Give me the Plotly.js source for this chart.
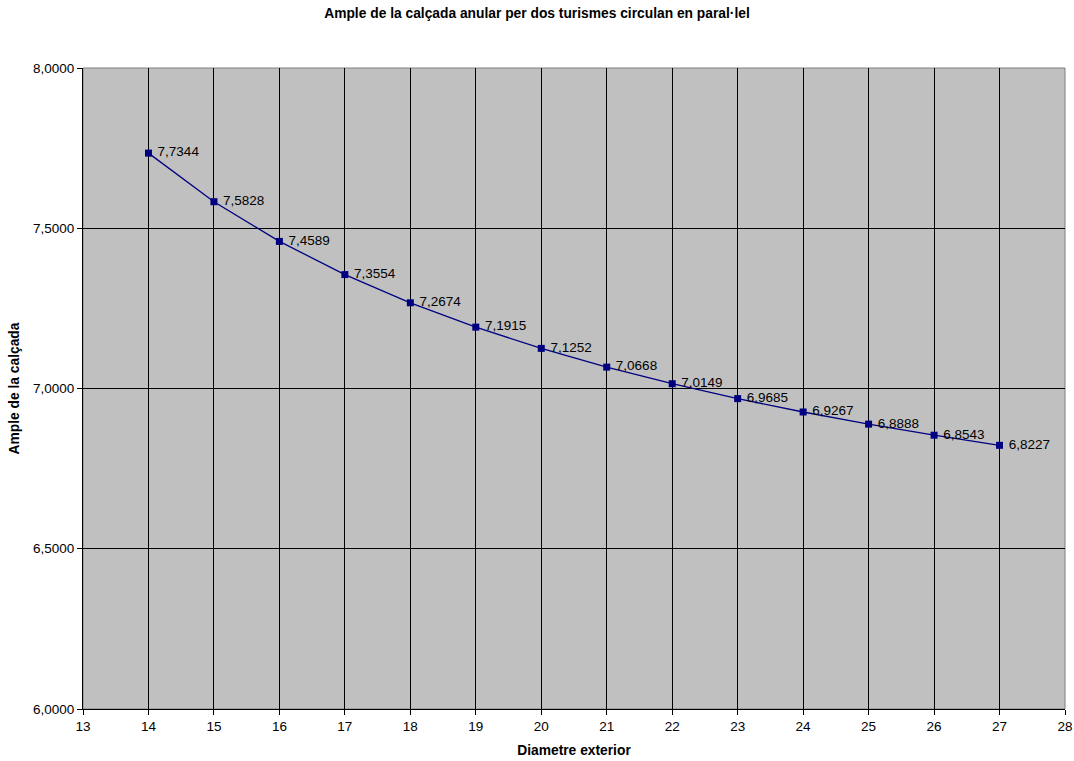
<!DOCTYPE html>
<html>
<head>
<meta charset="utf-8">
<script src="https://cdn.plot.ly/plotly-3.0.1.min.js"></script>
<style>html,body{margin:0;padding:0;background:#fff;}#chart{width:1074px;height:761px;}</style>
</head>
<body>
<div id="chart"></div>
<script>
const diametre = [14, 15, 16, 17, 18, 19, 20, 21, 22, 23, 24, 25, 26, 27];
const ample = [7.7344, 7.5828, 7.4589, 7.3554, 7.2674, 7.1915, 7.1252, 7.0668, 7.0149, 6.9685, 6.9267, 6.8888, 6.8543, 6.8227];
const labels = ample.map(v => ' ' + v.toFixed(4).replace('.', ','));
const yTicks = [6, 6.5, 7, 7.5, 8];
const yTickText = yTicks.map(v => v.toFixed(4).replace('.', ','));
const xTicks = [13,14,15,16,17,18,19,20,21,22,23,24,25,26,27,28];

const trace = {
  x: diametre, y: ample, text: labels,
  mode: 'lines+markers+text', type: 'scatter',
  textposition: 'middle right',
  textfont: {family: 'Liberation Sans, Arial, sans-serif', size: 13.5, color: '#000'},
  line: {color: '#000080', width: 1.3},
  marker: {symbol: 'square', size: 7, color: '#000080'},
  cliponaxis: false, hoverinfo: 'none'
};
const layout = {
  width: 1074, height: 761,
  margin: {l: 83, r: 9, t: 68, b: 52},
  paper_bgcolor: '#fff', plot_bgcolor: '#c0c0c0',
  showlegend: false,
  font: {family: 'Liberation Sans, Arial, sans-serif', size: 13.5, color: '#000'},
  title: {text: '<b>Ample de la calçada anular per dos turismes circulan en paral·lel</b>', x: 0.5, xanchor: 'center', yref: 'container', y: 1 - 8/761, yanchor: 'top', font: {size: 13.8}},
  xaxis: {range: [13, 28], tickvals: xTicks, ticktext: xTicks.map(String), showgrid: true, gridcolor: '#000', gridwidth: 1,
    ticks: 'outside', ticklen: 5, tickcolor: '#000', showline: true, linecolor: '#000', linewidth: 1, mirror: false, zeroline: false,
    tickfont: {size: 13.5},
    title: {text: '<b>Diametre exterior</b>', font: {size: 13.8}, standoff: 12}},
  yaxis: {range: [6, 8], tickvals: yTicks, ticktext: yTickText, showgrid: true, gridcolor: '#000', gridwidth: 1,
    ticks: 'outside', ticklen: 5, tickcolor: '#000', showline: true, linecolor: '#000', linewidth: 1, zeroline: false,
    tickfont: {size: 13.5},
    title: {text: '<b>Ample de la calçada</b>', font: {size: 13.8}, standoff: 10}},
  shapes: [{type: 'rect', xref: 'paper', yref: 'paper', x0: 0, x1: 1, y0: 0, y1: 1, line: {color: '#808080', width: 1}, layer: 'below'}]
};
Plotly.newPlot('chart', [trace], layout, {displayModeBar: false, staticPlot: true});
</script>
</body>
</html>
